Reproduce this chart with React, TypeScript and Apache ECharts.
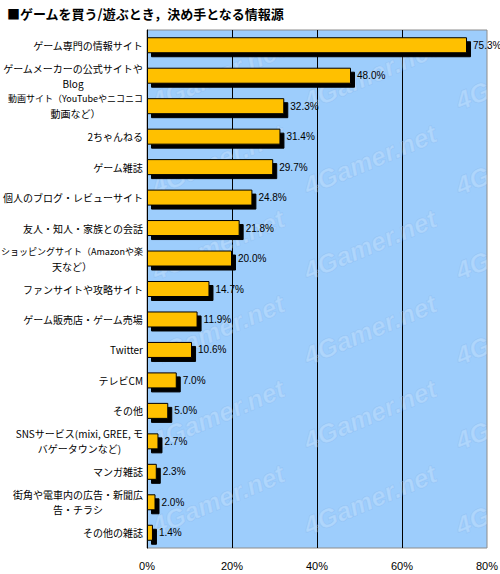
import React, { useEffect, useRef } from "react";
import * as echarts from "echarts";

const categories: string[] = [
  "ゲーム専門の情報サイト",
  "ゲームメーカーの公式サイトや\nBlog",
  "動画サイト（YouTubeやニコニコ\n動画など）",
  "2ちゃんねる",
  "ゲーム雑誌",
  "個人のブログ・レビューサイト",
  "友人・知人・家族との会話",
  "ショッピングサイト（Amazonや楽\n天など）",
  "ファンサイトや攻略サイト",
  "ゲーム販売店・ゲーム売場",
  "Twitter",
  "テレビCM",
  "その他",
  "SNSサービス(mixi, GREE, モ\nバゲータウンなど)",
  "マンガ雑誌",
  "街角や電車内の広告・新聞広\n告・チラシ",
  "その他の雑誌",
];

const values: number[] = [
  75.3, 48.0, 32.3, 31.4, 29.7, 24.8, 21.8, 20.0, 14.7, 11.9, 10.6, 7.0, 5.0,
  2.7, 2.3, 2.0, 1.4,
];

const xTicks: number[] = [0, 20, 40, 60, 80];

const title = "■ゲームを買う/遊ぶとき，決め手となる情報源";
const watermark = "4Gamer.net";

const FONT = "'Noto Sans CJK JP', 'Noto Sans', sans-serif";
const NUM_FONT = "'Liberation Sans', 'Noto Sans', sans-serif";

export default function App() {
  const ref = useRef<HTMLDivElement>(null);
  useEffect(() => {
    if (!ref.current) return;
    const chart = echarts.init(ref.current, undefined, { renderer: "svg" });
    chart.setOption({
      animation: false,
      backgroundColor: "#ffffff",
      title: {
        text: title,
        left: 2,
        top: 2,
        textStyle: {
          fontFamily: FONT,
          fontSize: 13,
          fontWeight: "bold",
          color: "#000",
        },
      },
      grid: {
        left: 147,
        right: 13,
        top: 30,
        bottom: 26,
        outerBoundsMode: "none",
        containLabel: false,
        show: true,
        backgroundColor: "#9dcdfc",
        borderColor: "#8c8c8c",
        borderWidth: 1,
      },
      xAxis: {
        type: "value",
        min: xTicks[0],
        max: xTicks[xTicks.length - 1],
        interval: 20,
        axisLine: { show: false },
        axisTick: { show: false },
        splitLine: {
          show: true,
          lineStyle: { color: "#000", width: 1 },
          showMinLine: false,
          showMaxLine: false,
        },
        axisLabel: {
          margin: 12,
          fontFamily: NUM_FONT,
          fontSize: 11,
          color: "#000",
          formatter: (v: number) => `${v}%`,
        },
      },
      yAxis: {
        type: "category",
        inverse: true,
        data: categories,
        axisLine: { show: true, lineStyle: { color: "#000", width: 1 } },
        axisTick: { show: false },
        axisLabel: {
          margin: 4,
          color: "#000",
          fontFamily: FONT,
          fontSize: 10,
          lineHeight: 15,
          formatter: (v: string) =>
            v
              .split("\n")
              .map((line) => (line.indexOf("（") >= 0 ? `{s|${line}}` : `{c|${line}}`))
              .join("\n"),
          rich: {
            c: {
              align: "center",
              fontFamily: FONT,
              fontSize: 10,
              lineHeight: 15,
              color: "#000",
            },
            s: {
              align: "center",
              fontFamily: FONT,
              fontSize: 9,
              lineHeight: 15,
              color: "#000",
            },
          },
        },
      },
      series: [
        {
          type: "custom",
          silent: true,
          clip: true,
          z: 1,
          data: [[0, 0]],
          renderItem: (params: any) => {
            const cs = params.coordSys;
            const children: any[] = [];
            const dx = 152;
            const dy = 85;
            for (let i = -1; i < 4; i++) {
              for (let j = -3; j < 8; j++) {
                children.push({
                  type: "group",
                  x: cs.x + 71 + dx * i,
                  y: cs.y + 45 + dy * j,
                  rotation: 0.4,
                  children: [
                    {
                      type: "text",
                      x: 0,
                      y: 0,
                      style: {
                        text: watermark,
                        fill: "rgba(255,255,255,0.2)",
                        stroke: "rgba(120,170,230,0.25)",
                        lineWidth: 1,
                        font: "italic bold 26px 'Liberation Sans', sans-serif",
                        textAlign: "center",
                        textVerticalAlign: "middle",
                      },
                    },
                  ],
                });
              }
            }
            return { type: "group", children };
          },
        },
        {
          type: "bar",
          data: values,
          barWidth: 16,
          z: 3,
          itemStyle: {
            color: "#ffc000",
            borderColor: "#000",
            borderWidth: 1,
            shadowColor: "#000",
            shadowOffsetX: 4,
            shadowOffsetY: 4,
            shadowBlur: 0,
          },
          label: {
            show: true,
            position: "right",
            distance: 6,
            fontFamily: NUM_FONT,
            fontSize: 10,
            color: "#000",
            formatter: (p: any) => `${Number(p.value).toFixed(1)}%`,
          },
        },
      ],
    });
    return () => chart.dispose();
  }, []);
  return (
    <div
      ref={ref}
      style={{ position: "fixed", left: 0, top: 0, width: 500, height: 574 }}
    />
  );
}
